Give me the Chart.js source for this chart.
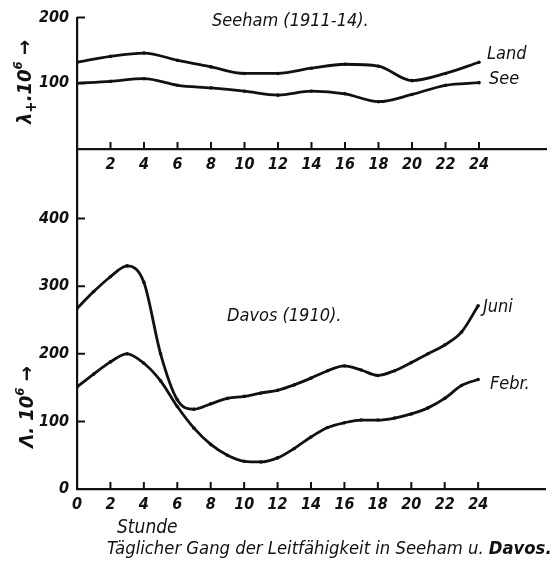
<!DOCTYPE html>
<html lang="de">
<head>
<meta charset="utf-8">
<title>Täglicher Gang der Leitfähigkeit in Seeham u. Davos</title>
<script src="https://cdn.jsdelivr.net/npm/chart.js@4.4.1/dist/chart.umd.min.js"></script>
<style>
  html, body { margin: 0; padding: 0; background: #fff; }
  #page {
    position: relative; width: 552px; height: 564px; overflow: hidden;
    font-family: 'DejaVu Sans Condensed', 'Liberation Sans Narrow', sans-serif;
    font-style: italic; color: #111;
  }
  canvas { position: absolute; left: 0; top: 0; }
  .note { position: absolute; white-space: nowrap; line-height: 1; font-size: 18px; }
  .ytitle {
    position: absolute; white-space: nowrap; line-height: 1; font-size: 20px; font-weight: bold;
    transform: translate(-50%, -50%) rotate(-90deg);
  }
  .ytitle sup { font-size: 13px; vertical-align: 9px; }
  .ytitle sub { font-size: 15px; vertical-align: -5px; }
</style>
</head>
<body>
<div id="page">
  <canvas id="chartSeeham" width="552" height="564"></canvas>
  <canvas id="chartDavos" width="552" height="564"></canvas>

  <div class="ytitle" style="left:25px; top:82px;">λ<sub>+</sub>.10<sup>6</sup> →</div>
  <div class="ytitle" style="left:24px; top:407px;">Λ. 10<sup>6</sup> →</div>

  <div class="note" style="left:212px; top:11px;">Seeham (1911-14).</div>
  <div class="note" style="left:487px; top:44px;">Land</div>
  <div class="note" style="left:489px; top:69px;">See</div>
  <div class="note" style="left:227px; top:306px;">Davos (1910).</div>
  <div class="note" style="left:483px; top:297px;">Juni</div>
  <div class="note" style="left:490px; top:374px;">Febr.</div>
  <div class="note" style="left:117px; top:517px; font-size:19px;">Stunde</div>
  <div class="note" style="left:107px; top:539px; font-size:18.3px;">Täglicher Gang der Leitfähigkeit in Seeham u. <b>Davos.</b></div>
</div>

<script>
  // Seeham (1911-14), lambda+ . 10^6, read every two hours
  const seehamHours = [0, 2, 4, 6, 8, 10, 12, 14, 16, 18, 20, 22, 24];
  const seehamLand = [132, 141, 146, 135, 125, 115, 115, 123, 129, 126, 104, 115, 132];
  const seehamSee = [100, 103, 107, 97, 93, 88, 82, 88, 84, 72, 83, 97, 101];

  // Davos (1910), Lambda . 10^6, hourly
  const davosHours = [0, 1, 2, 3, 4, 5, 6, 7, 8, 9, 10, 11, 12, 13, 14, 15, 16, 17, 18, 19, 20, 21, 22, 23, 24];
  const davosJuni = [267, 292, 314, 330, 306, 200, 132, 118, 126, 134, 137, 142, 146, 154, 164, 175, 182, 176, 168, 175, 187, 200, 213, 232, 271];
  const davosFebr = [151, 170, 188, 200, 186, 160, 122, 90, 66, 50, 41, 40, 46, 60, 77, 91, 98, 102, 102, 105, 111, 120, 134, 153, 162];

  // axis ticks
  const hourTicks = [2, 4, 6, 8, 10, 12, 14, 16, 18, 20, 22, 24];
  const seehamYTicks = [100, 200];
  const davosYTicks = [100, 200, 300, 400];

  const INK = "#111";
  const FONT = "'DejaVu Sans Condensed', 'Liberation Sans Narrow', sans-serif";

  Chart.defaults.font.family = FONT;
  Chart.defaults.color = INK;

  // short tick marks pointing into the plot, like the printed figure
  const inwardTicks = {
    id: "inwardTicks",
    afterDatasetsDraw(chart, args, opts) {
      const ctx = chart.ctx;
      const area = chart.chartArea;
      const xs = chart.scales.x;
      const ys = chart.scales.y;
      ctx.save();
      ctx.strokeStyle = INK;
      ctx.lineWidth = 2;
      ctx.beginPath();
      (opts.x || []).forEach((v) => {
        const px = xs.getPixelForValue(v);
        ctx.moveTo(px, area.bottom);
        ctx.lineTo(px, area.bottom - 7);
      });
      (opts.y || []).forEach((v) => {
        const py = ys.getPixelForValue(v);
        ctx.moveTo(area.left, py);
        ctx.lineTo(area.left + 8, py);
      });
      ctx.stroke();
      ctx.restore();
    },
  };

  function pairs(xs, ys) {
    return xs.map((x, i) => ({ x: x, y: ys[i] }));
  }

  function curve(label, data) {
    return {
      label: label,
      data: data,
      borderColor: INK,
      borderWidth: 2.8,
      pointRadius: 1.8,
      pointBackgroundColor: INK,
      pointBorderWidth: 0,
      cubicInterpolationMode: "monotone",
      fill: false,
    };
  }

  const tickFont = { family: FONT, size: 16, style: "italic", weight: "bold" };

  function axes(yMax, xHeight, xLabel, yLabel) {
    return {
      x: {
        type: "linear",
        min: 0,
        max: 28,
        grid: { display: false, drawTicks: false },
        border: { display: true, color: INK, width: 2.2 },
        ticks: { stepSize: 2, autoSkip: false, maxRotation: 0, padding: 6, font: tickFont, color: INK, callback: xLabel },
        afterFit: (s) => { s.height = xHeight; },
      },
      y: {
        min: 0,
        max: yMax,
        grid: { display: false, drawTicks: false },
        border: { display: true, color: INK, width: 2.2 },
        ticks: { stepSize: 100, autoSkip: false, padding: 8, font: tickFont, color: INK, callback: yLabel },
        afterFit: (s) => { s.width = 77; },
      },
    };
  }

  new Chart(document.getElementById("chartSeeham"), {
    type: "line",
    data: {
      datasets: [
        curve("Land", pairs(seehamHours, seehamLand)),
        curve("See", pairs(seehamHours, seehamSee)),
      ],
    },
    options: {
      responsive: false,
      animation: false,
      events: [],
      layout: { padding: { top: 15, right: 5, left: 0, bottom: 0 } },
      plugins: {
        legend: { display: false },
        tooltip: { enabled: false },
        inwardTicks: { x: hourTicks, y: seehamYTicks },
      },
      scales: axes(200, 564 - 149, (v) => (v === 0 || v > 24 ? "" : v), (v) => (v === 0 ? "" : v)),
    },
    plugins: [inwardTicks],
  });

  new Chart(document.getElementById("chartDavos"), {
    type: "line",
    data: {
      datasets: [
        curve("Juni", pairs(davosHours, davosJuni)),
        curve("Febr.", pairs(davosHours, davosFebr)),
      ],
    },
    options: {
      responsive: false,
      animation: false,
      events: [],
      layout: { padding: { top: 151, right: 7, left: 0, bottom: 0 } },
      plugins: {
        legend: { display: false },
        tooltip: { enabled: false },
        inwardTicks: { x: hourTicks, y: davosYTicks },
      },
      scales: axes(500, 564 - 489, (v) => (v > 24 ? "" : v), (v) => (v > 400 ? "" : v)),
    },
    plugins: [inwardTicks],
  });
</script>
</body>
</html>
